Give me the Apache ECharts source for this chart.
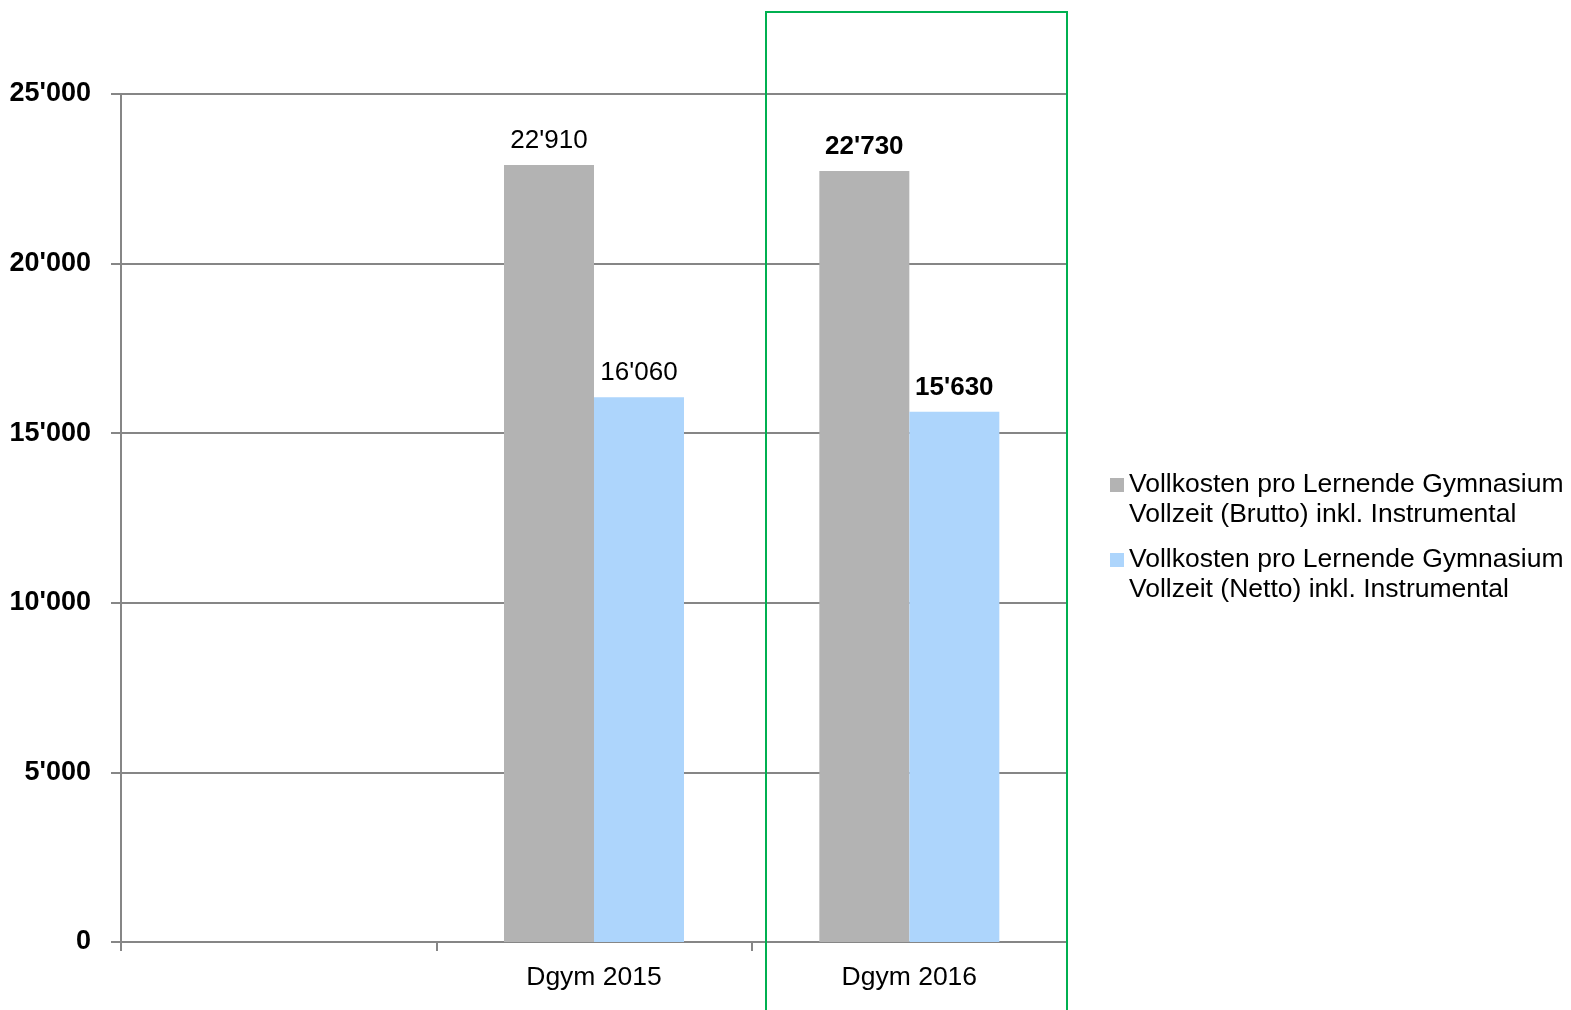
<!DOCTYPE html>
<html>
<head>
<meta charset="utf-8">
<script src="https://cdn.jsdelivr.net/npm/echarts@6/dist/echarts.min.js"></script>
<style>html,body{margin:0;padding:0;background:#fff}#c{width:1571px;height:1010px}</style>
</head>
<body>
<div id="c"></div>
<script>
var categories = ['', 'Dgym 2015', 'Dgym 2016'];
var seriesNames = ['Vollkosten pro Lernende Gymnasium Vollzeit (Brutto) inkl. Instrumental',
                   'Vollkosten pro Lernende Gymnasium Vollzeit (Netto) inkl. Instrumental'];
var brutto = [null, 22910, 22730];
var netto = [null, 16060, 15630];
var boldIndex = 2;

function fmt(v){
  var s = String(Math.round(v));
  return s.replace(/\B(?=(\d{3})+(?!\d))/g, "'");
}
function build(arr){
  return arr.map(function(v,i){
    if (i === boldIndex) return {value:v, label:{fontWeight:'bold'}};
    return v;
  });
}
var chart = echarts.init(document.getElementById('c'), null, {renderer:'canvas'});
var FONT = 'Liberation Sans, Arial, sans-serif';
chart.setOption({
  animation:false,
  textStyle:{fontFamily:FONT},
  grid:{left:121, right:504, top:94, bottom:68, containLabel:false},
  legend:{
    orient:'vertical', left:1105, top:465, itemWidth:14, itemHeight:44, itemGap:15,
    icon:'path://M0,0 L14,0 L14,14 L0,14 Z M0,44 L0.01,44 Z', selectedMode:false,
    textStyle:{fontSize:26.5, color:'#000', fontFamily:FONT, lineHeight:30},
    formatter:function(n){ return n.replace(' Gymnasium ', ' Gymnasium\n'); },
    data:seriesNames
  },
  xAxis:{
    type:'category', data:categories,
    axisLine:{lineStyle:{color:'#868686', width:2}},
    axisTick:{show:true, length:9, lineStyle:{color:'#868686', width:2}},
    axisLabel:{fontSize:26.5, color:'#000', margin:22, fontFamily:FONT}
  },
  yAxis:{
    type:'value', min:0, max:25000, interval:5000,
    axisLine:{show:true, lineStyle:{color:'#868686', width:2}},
    axisTick:{show:true, length:10, lineStyle:{color:'#868686', width:2}},
    splitLine:{lineStyle:{color:'#868686', width:2}},
    axisLabel:{fontSize:27, fontWeight:'bold', color:'#000', margin:30, fontFamily:FONT, formatter:fmt}
  },
  series:[
    {name:seriesNames[0], type:'bar', data:build(brutto), barWidth:90, barGap:'0%',
     itemStyle:{color:'#B3B3B3'},
     label:{show:true, position:'top', distance:11, fontSize:26, color:'#000', fontFamily:FONT,
       formatter:function(p){return fmt(p.value);}}},
    {name:seriesNames[1], type:'bar', data:build(netto), barWidth:90, barGap:'0%',
     itemStyle:{color:'#ADD5FC'},
     label:{show:true, position:'top', distance:11, fontSize:26, color:'#000', fontFamily:FONT,
       formatter:function(p){return fmt(p.value);}}}
  ],
  graphic:[
    {type:'rect', shape:{x:766, y:12, width:301, height:1010}, z:100,
     style:{fill:'none', stroke:'#00B050', lineWidth:2}}
  ]
});
</script>
</body>
</html>
